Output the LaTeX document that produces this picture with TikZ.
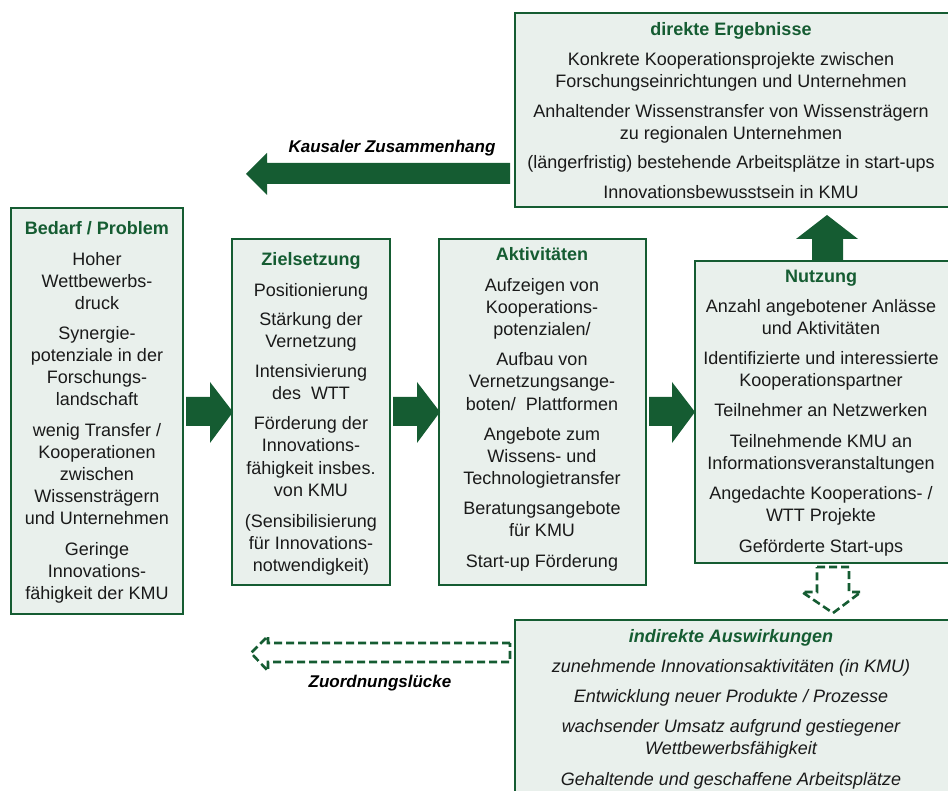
\documentclass[tikz,border=0pt]{standalone}
\usepackage{fontspec}
\setmainfont{Liberation Sans}
\definecolor{dg}{HTML}{155C32}
\definecolor{bfill}{HTML}{E9F0EC}
\definecolor{txtc}{HTML}{1A1A1A}
\newcounter{tlc}
\newcommand\tline[4][txt]{\stepcounter{tlc}\node[#1] (t\arabic{tlc}) at (#2,#3) {#4};}
\tikzset{
  box/.style={draw=dg, line width=1.8pt, fill=bfill, inner sep=0pt},
  txt/.style={anchor=base, inner sep=0pt, text=txtc, font=\fontsize{18}{22}\selectfont},
  ttl/.style={anchor=base, inner sep=0pt, text=dg, font=\fontsize{18}{22}\selectfont\bfseries},
  itx/.style={anchor=base, inner sep=0pt, text=txtc, font=\fontsize{18}{22}\selectfont\itshape},
  ittl/.style={anchor=base, inner sep=0pt, text=dg, font=\fontsize{18}{22}\selectfont\bfseries\itshape},
  lbl/.style={anchor=base, inner sep=0pt, text=black, font=\fontsize{17}{20}\selectfont\bfseries\itshape},
  blk/.style={fill=dg, draw=none},
  dsh/.style={draw=dg, fill=white, line width=2.6pt, dash pattern=on 8pt off 4pt, line join=miter},
}
\begin{document}
\begin{tikzpicture}[x=1pt,y=-1pt]
\useasboundingbox (0,0) rectangle (948,791);
\clip (0,0) rectangle (948,791);

% boxes
\node[box, minimum width=172, minimum height=406] (bedarf) at (97,411) {};
\node[box, minimum width=158, minimum height=346] (ziel) at (311,412) {};
\node[box, minimum width=207, minimum height=346] (akt) at (542.5,412) {};
\node[box, minimum width=260, minimum height=302] (nutz) at (825,412) {};
\node[box, minimum width=440, minimum height=194] (dir) at (735,110) {};
\node[box, minimum width=440, minimum height=190] (ind) at (735,715) {};

% block arrows right
\fill[blk] (186,397) -- (210,397) -- (210,382) -- (233,412) -- (210,443) -- (210,426) -- (186,426) -- cycle;
\fill[blk] (393,397) -- (417,397) -- (417,382) -- (440,412) -- (417,443) -- (417,426) -- (393,426) -- cycle;
\fill[blk] (649,397) -- (672,397) -- (672,382) -- (695,412) -- (672,443) -- (672,426) -- (649,426) -- cycle;

% up arrow
\fill[blk] (812,261) -- (812,239) -- (796,239) -- (827,215) -- (858,239) -- (843,239) -- (843,261) -- cycle;

% Kausaler arrow
\fill[blk] (510,163) -- (267,163) -- (267,153) -- (246,174) -- (267,195) -- (267,184) -- (510,184) -- cycle;
\node[lbl] (kaus) at (392,153) {Kausaler Zusammenhang};

% dashed down arrow
\draw[dsh] (817,567) -- (849,567) -- (849,592) -- (861,592) -- (833,613) -- (802,592) -- (817,592) -- cycle;

% dashed left arrow
\draw[dsh] (510,643) -- (268,643) -- (268,636) -- (251,653) -- (268,671) -- (268,662) -- (510,662) -- cycle;
\node[lbl] (zuord) at (380,687) {Zuordnungslücke};

% Bedarf
\tline[ttl]{97}{235}{Bedarf / Problem}
\tline{97}{266}{Hoher}
\tline{97}{288}{Wettbewerbs-}
\tline{97}{310}{druck}
\tline{97}{340}{Synergie-}
\tline{97}{362}{potenziale in der}
\tline{97}{384}{Forschungs-}
\tline{97}{406}{landschaft}
\tline{97}{436}{wenig Transfer /}
\tline{97}{458}{Kooperationen}
\tline{97}{480}{zwischen}
\tline{97}{502}{Wissensträgern}
\tline{97}{524}{und Unternehmen}
\tline{97}{555}{Geringe}
\tline{97}{577}{Innovations-}
\tline{97}{599}{fähigkeit der KMU}

% Ziel
\tline[ttl]{311}{266}{Zielsetzung}
\tline{311}{297}{Positionierung}
\tline{311}{326}{Stärkung der}
\tline{311}{348}{Vernetzung}
\tline{311}{378}{Intensivierung}
\tline{311}{400}{des~ WTT}
\tline{311}{430}{Förderung der}
\tline{311}{452}{Innovations-}
\tline{311}{474}{fähigkeit insbes.}
\tline{311}{496}{von KMU}
\tline{311}{527}{(Sensibilisierung}
\tline{311}{549}{für Innovations-}
\tline{311}{571}{notwendigkeit)}

% Aktivitaeten
\tline[ttl]{542}{261}{Aktivitäten}
\tline{542}{292}{Aufzeigen von}
\tline{542}{314}{Kooperations-}
\tline{542}{336}{potenzialen/}
\tline{542}{366}{Aufbau von}
\tline{542}{388}{Vernetzungsange-}
\tline{542}{410}{boten/~ Plattformen}
\tline{542}{440}{Angebote zum}
\tline{542}{462}{Wissens- und}
\tline{542}{484}{Technologietransfer}
\tline{542}{514}{Beratungsangebote}
\tline{542}{536}{für KMU}
\tline{542}{567}{Start-up Förderung}

% Nutzung
\tline[ttl]{821}{283}{Nutzung}
\tline{821}{313}{Anzahl angebotener Anlässe}
\tline{821}{335}{und Aktivitäten}
\tline{821}{365}{Identifizierte und interessierte}
\tline{821}{387}{Kooperationspartner}
\tline{821}{417}{Teilnehmer an Netzwerken}
\tline{821}{447}{Teilnehmende KMU an}
\tline{821}{469}{Informationsveranstaltungen}
\tline{821}{499}{Angedachte Kooperations- /}
\tline{821}{521}{WTT Projekte}
\tline{821}{552}{Geförderte Start-ups}

% direkte Ergebnisse
\tline[ttl]{731}{36}{direkte Ergebnisse}
\tline{731}{66}{Konkrete Kooperationsprojekte zwischen}
\tline{731}{88}{Forschungseinrichtungen und Unternehmen}
\tline{731}{118}{Anhaltender Wissenstransfer von Wissensträgern}
\tline{731}{140}{zu regionalen Unternehmen}
\tline{731}{169}{(längerfristig) bestehende Arbeitsplätze in start-ups}
\tline{731}{199}{Innovationsbewusstsein in KMU}

% indirekte Auswirkungen
\tline[ittl]{731}{642}{indirekte Auswirkungen}
\tline[itx]{731}{672}{zunehmende Innovationsaktivitäten (in KMU)}
\tline[itx]{731}{702}{Entwicklung neuer Produkte / Prozesse}
\tline[itx]{731}{732}{wachsender Umsatz aufgrund gestiegener}
\tline[itx]{731}{754}{Wettbewerbsfähigkeit}
\tline[itx]{731}{785}{Gehaltende und geschaffene Arbeitsplätze}
\end{tikzpicture}
\end{document}
